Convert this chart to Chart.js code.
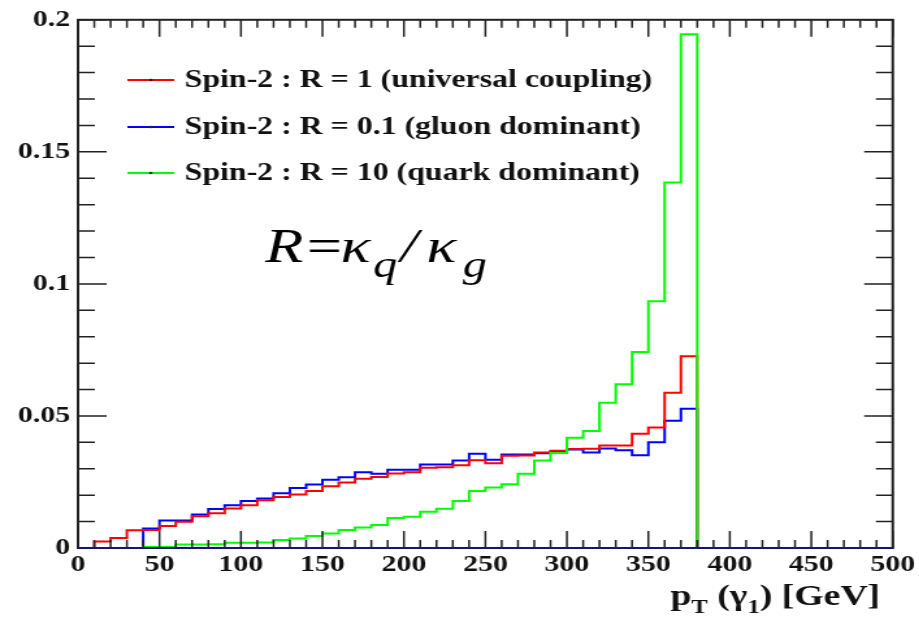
<!DOCTYPE html>
<html>
<head>
<meta charset="utf-8">
<script src="https://cdn.jsdelivr.net/npm/chart.js@4.4.1/dist/chart.umd.min.js"></script>
<style>
  html, body { margin: 0; padding: 0; background: #fff; }
  /* the reference figure is stretched sideways, so the whole chart is too */
  #wrap { width: 707px; height: 625px; transform: scaleX(1.3); transform-origin: 0 0; }
</style>
</head>
<body>
<div id="wrap"><canvas id="chart"></canvas></div>
<script>
// lower edges of the 10 GeV bins
const binLow = [0, 10, 20, 30, 40, 50, 60, 70, 80, 90,
  100, 110, 120, 130, 140, 150, 160, 170, 180, 190,
  200, 210, 220, 230, 240, 250, 260, 270, 280, 290,
  300, 310, 320, 330, 340, 350, 360, 370];
const binEnd = 380;

// Spin-2 : R = 1 (universal coupling)
const spinR1 = [0, 0.0025, 0.0038, 0.0067, 0.0068, 0.0083, 0.0099, 0.0120, 0.0132, 0.0150,
  0.0162, 0.0181, 0.0193, 0.0203, 0.0216, 0.0234, 0.0248, 0.0262, 0.0269, 0.0282,
  0.0287, 0.0304, 0.0306, 0.0313, 0.0332, 0.0321, 0.0349, 0.0350, 0.0362, 0.0368,
  0.0375, 0.0376, 0.0388, 0.0388, 0.0433, 0.0456, 0.0588, 0.0726];

// Spin-2 : R = 0.1 (gluon dominant)
const spinR01 = [0, 0, 0, 0, 0.0074, 0.0104, 0.0104, 0.0127, 0.0148, 0.0162,
  0.0178, 0.0187, 0.0207, 0.0227, 0.0240, 0.0258, 0.0268, 0.0287, 0.0281, 0.0296,
  0.0296, 0.0316, 0.0316, 0.0331, 0.0357, 0.0334, 0.0354, 0.0354, 0.0359, 0.0365,
  0.0373, 0.0362, 0.0377, 0.0370, 0.0351, 0.0400, 0.0482, 0.0527];

// Spin-2 : R = 10 (quark dominant)
const spinR10 = [0, 0, 0, 0, 0.0004, 0.0004, 0.0013, 0.0013, 0.0014, 0.0020,
  0.0020, 0.0021, 0.0030, 0.0036, 0.0045, 0.0055, 0.0068, 0.0078, 0.0087, 0.0114,
  0.0118, 0.0137, 0.0149, 0.0178, 0.0216, 0.0229, 0.0241, 0.0281, 0.0331, 0.0360,
  0.0417, 0.0443, 0.0550, 0.0620, 0.0742, 0.0934, 0.1384, 0.1945];

const legendLabels = [
  "Spin-2 : R = 1 (universal coupling)",
  "Spin-2 : R = 0.1 (gluon dominant)",
  "Spin-2 : R = 10 (quark dominant)"
];
const yTickLabels = ["0", "0.05", "0.1", "0.15", "0.2"];

const SERIF = '"Liberation Serif", "Times New Roman", serif';

function histPoints(values) {
  const pts = binLow.map((x, i) => ({ x: x, y: values[i] }));
  pts.push({ x: binEnd, y: 0 }); // drop back to zero at the last edge
  return pts;
}

// frame with inward ticks on all four sides, ROOT style
const frameTicks = {
  id: "frameTicks",
  afterDatasetsDraw(chart) {
    const { ctx, chartArea: a, scales: { x, y } } = chart;
    ctx.save();
    ctx.strokeStyle = "#222";
    ctx.lineWidth = 1.5;
    ctx.beginPath();
    for (let k = 0; k <= 50; k++) {
      const px = x.getPixelForValue(k * 10);
      const len = k % 5 === 0 ? 17 : 8;
      ctx.moveTo(px, a.bottom); ctx.lineTo(px, a.bottom - len);
      ctx.moveTo(px, a.top); ctx.lineTo(px, a.top + len);
    }
    for (let k = 0; k <= 20; k++) {
      const py = y.getPixelForValue(k / 100);
      const len = k % 5 === 0 ? 22 : 13;
      ctx.moveTo(a.left, py); ctx.lineTo(a.left + len, py);
      ctx.moveTo(a.right, py); ctx.lineTo(a.right - len, py);
    }
    ctx.stroke();
    ctx.lineWidth = 2;
    ctx.strokeStyle = "#222";
    ctx.strokeRect(a.left, a.top, a.right - a.left, a.bottom - a.top);
    ctx.strokeStyle = "#14147a";
    ctx.beginPath();
    ctx.moveTo(a.left, a.bottom); ctx.lineTo(a.right, a.bottom);
    ctx.stroke();
    ctx.restore();
  }
};

// legend, formula and axis title
const annotations = {
  id: "annotations",
  afterDraw(chart) {
    const ctx = chart.ctx;
    const colors = ["#ff0000", "#0000ff", "#00ff00"];
    const rows = [80, 127, 173];
    ctx.save();
    // legend
    rows.forEach((ry, i) => {
      ctx.strokeStyle = colors[i];
      ctx.lineWidth = 2;
      ctx.beginPath(); ctx.moveTo(98, ry); ctx.lineTo(134, ry); ctx.stroke();
      ctx.fillStyle = "#222";
      ctx.beginPath(); ctx.arc(116, ry, 1.3, 0, Math.PI * 2); ctx.fill();
      ctx.font = "bold 24.5px " + SERIF;
      ctx.fillStyle = "#111";
      ctx.textBaseline = "middle";
      ctx.textAlign = "left";
      ctx.fillText(legendLabels[i], 142, ry + 1);
    });

    // R = kappa_q / kappa_g
    ctx.textBaseline = "alphabetic";
    ctx.fillStyle = "#000";
    ctx.font = "italic 48px " + SERIF;
    ctx.fillText("R", 204, 262);
    ctx.font = "48px " + SERIF;
    ctx.fillText("=", 236, 262);
    ctx.font = "italic 48px " + SERIF;
    ctx.fillText("κ", 262, 262);
    ctx.fillText("/", 308, 262);
    ctx.fillText("κ", 328, 262);
    ctx.font = "italic 37px " + SERIF;
    ctx.fillText("q", 287, 277);
    ctx.fillText("g", 356, 277);

    // x axis title, right aligned at the frame edge
    const big = "bold 29px " + SERIF, small = "bold 19px " + SERIF;
    const parts = [["p", big, 0], ["T", small, 8], [" (γ", big, 0], ["1", small, 8], [") [GeV]", big, 0]];
    let w = 0;
    parts.forEach(p => { ctx.font = p[1]; w += ctx.measureText(p[0]).width; });
    let tx = 677 - w;
    ctx.fillStyle = "#111";
    parts.forEach(p => {
      ctx.font = p[1];
      ctx.fillText(p[0], tx, 605 + p[2]);
      tx += ctx.measureText(p[0]).width;
    });
    ctx.restore();
  }
};

function histDataset(label, values, color, order) {
  return {
    label: label,
    data: histPoints(values),
    borderColor: color,
    borderWidth: 2,
    stepped: true,
    pointRadius: 0,
    fill: false,
    order: order
  };
}

new Chart(document.getElementById("chart"), {
  type: "line",
  data: {
    datasets: [
      histDataset(legendLabels[0], spinR1, "#ff0000", 1),
      histDataset(legendLabels[1], spinR01, "#0000ff", 2),
      histDataset(legendLabels[2], spinR10, "#00ff00", 0)
    ]
  },
  options: {
    responsive: true,
    maintainAspectRatio: false,
    animation: false,
    layout: { padding: { top: 17, right: 20, left: 0, bottom: 0 } },
    plugins: { legend: { display: false }, tooltip: { enabled: false } },
    scales: {
      x: {
        type: "linear",
        min: 0,
        max: 500,
        grid: { display: false, drawTicks: false },
        border: { display: false },
        ticks: {
          stepSize: 50,
          padding: 3,
          color: "#111",
          maxRotation: 0,
          font: { family: SERIF, size: 23, weight: "bold" }
        },
        afterFit(scale) { scale.height = 77; }
      },
      y: {
        min: 0,
        max: 0.2,
        grid: { display: false, drawTicks: false },
        border: { display: false },
        ticks: {
          stepSize: 0.05,
          padding: 6,
          color: "#111",
          font: { family: SERIF, size: 23, weight: "bold" },
          callback: (v, i) => yTickLabels[i]
        },
        afterFit(scale) { scale.width = 60; }
      }
    }
  },
  plugins: [frameTicks, annotations]
});
</script>
</body>
</html>
